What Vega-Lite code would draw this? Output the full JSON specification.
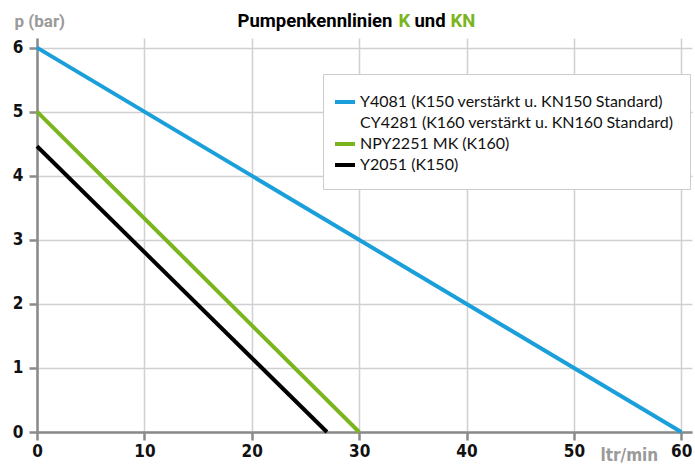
{
  "$schema": "https://vega.github.io/schema/vega-lite/v6.json",
  "autosize": "none",
  "width": 655,
  "height": 394,
  "padding": {"left": 37, "top": 38, "right": 3, "bottom": 33},
  "background": "white",
  "data": {
    "values": [
      {"serie": "Y4081 (K150 verstärkt u. KN150 Standard)", "q": 0, "p": 6},
      {"serie": "Y4081 (K150 verstärkt u. KN150 Standard)", "q": 60, "p": 0},
      {"serie": "NPY2251 MK (K160)", "q": 0, "p": 5},
      {"serie": "NPY2251 MK (K160)", "q": 30, "p": 0},
      {"serie": "Y2051 (K150)", "q": 0, "p": 4.46},
      {"serie": "Y2051 (K150)", "q": 27, "p": 0}
    ]
  },
  "config": {
    "view": {"stroke": null},
    "axis": {
      "labelFont": "Liberation Sans Narrow, DejaVu Sans Condensed, sans-serif",
      "titleFont": "Roboto, sans-serif"
    }
  },
  "resolve": {"axis": {"x": "independent", "y": "independent"}},
  "layer": [
    {
      "mark": {"type": "line", "strokeWidth": 4},
      "encoding": {
        "x": {
          "field": "q", "type": "quantitative",
          "scale": {"domain": [0, 61], "nice": false, "zero": true},
          "axis": {
            "values": [0, 10, 20, 30, 40, 50, 60],
            "grid": true, "gridColor": "#d0d0d0", "gridWidth": 1.5,
            "domainColor": "#8a8a8a", "domainWidth": 2.5,
            "tickColor": "#8a8a8a", "tickWidth": 2.5, "tickSize": 8,
            "labelFontSize": 17, "labelFontWeight": "bold", "labelColor": "#111",
            "labelPadding": 3, "labelFlush": false,
            "title": "ltr/min", "titleX": 563, "titleY": 28,
            "titleAlign": "left", "titleBaseline": "alphabetic",
            "titleColor": "#9a9a9a", "titleFontSize": 17, "titleFontWeight": 600,
            "titleFont": "Liberation Sans Narrow, DejaVu Sans Condensed, sans-serif"
          }
        },
        "y": {
          "field": "p", "type": "quantitative",
          "scale": {"domain": [0, 6.15], "nice": false},
          "axis": {
            "values": [0, 1, 2, 3, 4, 5, 6],
            "grid": true, "gridColor": "#d0d0d0", "gridWidth": 1.5,
            "domainColor": "#8a8a8a", "domainWidth": 2.5,
            "tickColor": "#8a8a8a", "tickWidth": 2.5, "tickSize": 8,
            "labelFontSize": 17, "labelFontWeight": "bold", "labelColor": "#111",
            "labelPadding": 6, "labelFlush": false,
            "title": "p (bar)", "titleAngle": 0, "titleX": -23, "titleY": -12,
            "titleAlign": "left", "titleBaseline": "alphabetic",
            "titleColor": "#9a9a9a", "titleFontSize": 17, "titleFontWeight": "bold"
          }
        },
        "color": {
          "field": "serie", "type": "nominal",
          "scale": {
            "domain": [
              "Y4081 (K150 verstärkt u. KN150 Standard)",
              "CY4281 (K160 verstärkt u. KN160 Standard)",
              "NPY2251 MK (K160)",
              "Y2051 (K150)"
            ],
            "range": ["#1a9fdb", "transparent", "#7ab51d", "#000000"]
          },
          "legend": {
            "title": null,
            "orient": "none", "legendX": 286, "legendY": 36,
            "strokeColor": "#cccccc", "fillColor": "white",
            "padding": 16, "symbolOffset": -6,
            "symbolType": "stroke", "symbolStrokeWidth": 4, "symbolSize": 400,
            "labelFont": "Lato, sans-serif", "labelFontSize": 16, "labelColor": "#111",
            "labelOffset": 3, "rowPadding": 1, "labelLimit": 500
          }
        }
      }
    },
    {
      "mark": {"type": "line", "opacity": 0},
      "encoding": {
        "x": {
          "field": "q", "type": "quantitative",
          "axis": {
            "orient": "top", "domain": false, "ticks": false, "labels": false, "grid": false,
            "title": "Pumpenkennlinien", "titleX": 200, "titleY": -12,
            "titleAlign": "left", "titleBaseline": "alphabetic",
            "titleColor": "#000", "titleFontSize": 18.5, "titleFontWeight": "bold"
          }
        },
        "y": {
          "field": "p", "type": "quantitative",
          "axis": {
            "orient": "right", "domain": false, "ticks": false, "labels": false, "grid": false,
            "title": "K", "titleAngle": 0, "titleX": -294, "titleY": -12,
            "titleAlign": "left", "titleBaseline": "alphabetic",
            "titleColor": "#7ab51d", "titleFontSize": 18.5, "titleFontWeight": "bold"
          }
        },
        "detail": {"field": "serie"}
      }
    },
    {
      "mark": {"type": "line", "opacity": 0},
      "encoding": {
        "x": {
          "field": "q", "type": "quantitative",
          "axis": {
            "orient": "top", "domain": false, "ticks": false, "labels": false, "grid": false,
            "title": "und", "titleX": 377, "titleY": -12,
            "titleAlign": "left", "titleBaseline": "alphabetic",
            "titleColor": "#000", "titleFontSize": 18.5, "titleFontWeight": "bold"
          }
        },
        "y": {
          "field": "p", "type": "quantitative",
          "axis": {
            "orient": "right", "domain": false, "ticks": false, "labels": false, "grid": false,
            "title": "KN", "titleAngle": 0, "titleX": -242, "titleY": -12,
            "titleAlign": "left", "titleBaseline": "alphabetic",
            "titleColor": "#7ab51d", "titleFontSize": 18.5, "titleFontWeight": "bold"
          }
        },
        "detail": {"field": "serie"}
      }
    }
  ]
}
